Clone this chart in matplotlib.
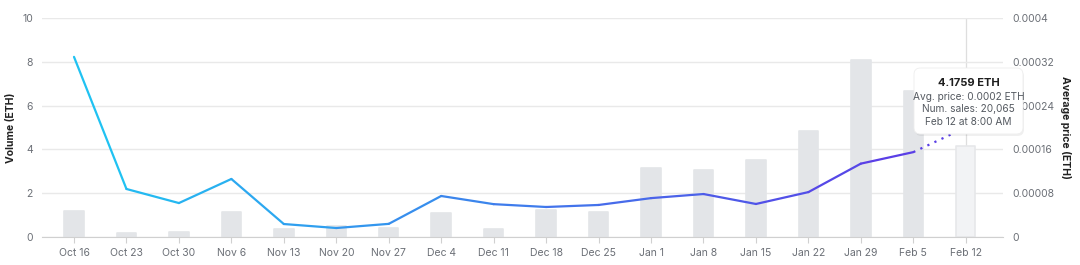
import numpy as np
import matplotlib
matplotlib.use("Agg")
from matplotlib import pyplot as plt
from matplotlib.collections import LineCollection
from matplotlib.colors import to_rgb
from matplotlib.patches import FancyBboxPatch

plt.rcParams['font.family'] = ['Inter', 'DejaVu Sans']

# weekly data
weeks = ["Oct 16", "Oct 23", "Oct 30", "Nov 6", "Nov 13", "Nov 20", "Nov 27",
         "Dec 4", "Dec 11", "Dec 18", "Dec 25", "Jan 1", "Jan 8", "Jan 15",
         "Jan 22", "Jan 29", "Feb 5", "Feb 12"]
volume = [1.18, 0.2, 0.25, 1.12, 0.35, 0.5, 0.4, 1.08, 0.36, 1.25, 1.14,
          3.15, 3.05, 3.5, 4.85, 8.07, 6.67, 4.1759]
avg_price = [0.000329, 0.0000877, 0.000062, 0.000106, 0.0000237, 0.0000164,
             0.000024, 0.0000749, 0.00006, 0.0000548, 0.0000585, 0.000071,
             0.0000785, 0.0000603, 0.000082, 0.000134, 0.000155, 0.0002]
left_ticks = [0, 2, 4, 6, 8, 10]
right_ticks = [0, 0.00008, 0.00016, 0.00024, 0.00032, 0.0004]
right_labels = ["0", "0.00008", "0.00016", "0.00024", "0.00032", "0.0004"]

tooltip_title = "4.1759 ETH"
tooltip_lines = ["Avg. price: 0.0002 ETH", "Num. sales: 20,065", "Feb 12 at 8:00 AM"]

W, H = 1080, 265
fig = plt.figure(figsize=(W / 100, H / 100), dpi=100)
ax = fig.add_axes([42 / W, 28 / H, 961 / W, 219 / H])
ax2 = ax.twinx()

x = np.arange(len(weeks))
tick_col = "#6b6f76"

# vertical hover line
ax.axvline(x[-1], color="#dedede", lw=0.9, zorder=0.5)

bar_cols = ["#e3e5e8"] * (len(weeks) - 1) + ["#f2f3f5"]
edge_cols = ["#e3e5e8"] * (len(weeks) - 1) + ["#e6e7ea"]
ax.bar(x, volume, width=0.37, color=bar_cols, edgecolor=edge_cols,
       linewidth=1.2, joinstyle="round", zorder=2)

ax.set_ylim(0, 10)
ax.set_yticks(left_ticks)
ax.set_xticks(x)
ax.set_xticklabels(weeks)
ax.grid(axis="y", color="#e9e9e9", lw=1, zorder=0)
ax.set_axisbelow(True)
for s in ["top", "right", "left"]:
    ax.spines[s].set_visible(False)
ax.spines["bottom"].set_color("#d0d0d0")
ax.tick_params(axis="x", colors="#d0d0d0", length=4, labelcolor=tick_col,
               labelsize=7.5, pad=4)
ax.tick_params(axis="y", length=0, labelcolor=tick_col, labelsize=7.5, pad=6.5)
ax.set_ylabel("Volume (ETH)", fontsize=7.5, fontweight="bold", color="#222222")
ax.yaxis.set_label_coords(-26 / 961, 0.5)

# price line with gradient
c0 = np.array(to_rgb("#20c2f2"))
c1 = np.array(to_rgb("#5a3fe6"))
pts = np.column_stack([x[:-1], avg_price[:-1]])
segs = np.stack([pts[:-1], pts[1:]], axis=1)
t = np.linspace(0, 1, len(segs))
cols = [tuple(c0 * (1 - v) + c1 * v) for v in t]
lc = LineCollection(segs, colors=cols, linewidths=1.6, capstyle="round",
                    joinstyle="round", zorder=3)
ax2.add_collection(lc, autolim=False)
ax2.plot(x[-2:], avg_price[-2:], color="#5a3fe6", lw=1.6, ls=(0, (1, 2.5)),
         zorder=3)

ax2.set_ylim(0, 0.0004)
ax2.set_yticks(right_ticks)
ax2.set_yticklabels(right_labels)
for s in ax2.spines.values():
    s.set_visible(False)
ax2.tick_params(axis="y", length=0, labelcolor=tick_col, labelsize=7.5, pad=7)
ax2.set_ylabel("Average price (ETH)", fontsize=7.5, fontweight="bold",
               color="#222222", rotation=270, va="center")
ax2.yaxis.set_label_coords(1 + 62 / 961, 0.5)

ax.set_xlim(-0.61, 17.71)

# tooltip (pixel box: left, top, width, height)
bx0, by0, bw, bh = 914, 68, 109, 66
shadow = FancyBboxPatch(((bx0 + 1) / W, (H - by0 - bh - 2) / H), bw / W, bh / H,
                        boxstyle="round,pad=0,rounding_size=0.006",
                        transform=fig.transFigure, facecolor="#000000",
                        alpha=0.06, edgecolor="none", zorder=9,
                        mutation_aspect=W / H)
box = FancyBboxPatch((bx0 / W, (H - by0 - bh) / H), bw / W, bh / H,
                     boxstyle="round,pad=0,rounding_size=0.006",
                     transform=fig.transFigure, facecolor="white",
                     edgecolor="#eeeeee", lw=0.6, zorder=10,
                     mutation_aspect=W / H)
fig.patches.extend([shadow, box])
cx = (bx0 + bw / 2) / W
fig.text(cx, 1 - 83 / H, tooltip_title, ha="center", va="center",
         fontsize=8, fontweight="bold", color="#1f1f1f", zorder=11)
for i, line in enumerate(tooltip_lines):
    fig.text(cx, 1 - (96.5 + 12.7 * i) / H, line, ha="center", va="center",
             fontsize=7.3, color="#555a61", zorder=11)

fig.savefig("out.png", dpi=100)
